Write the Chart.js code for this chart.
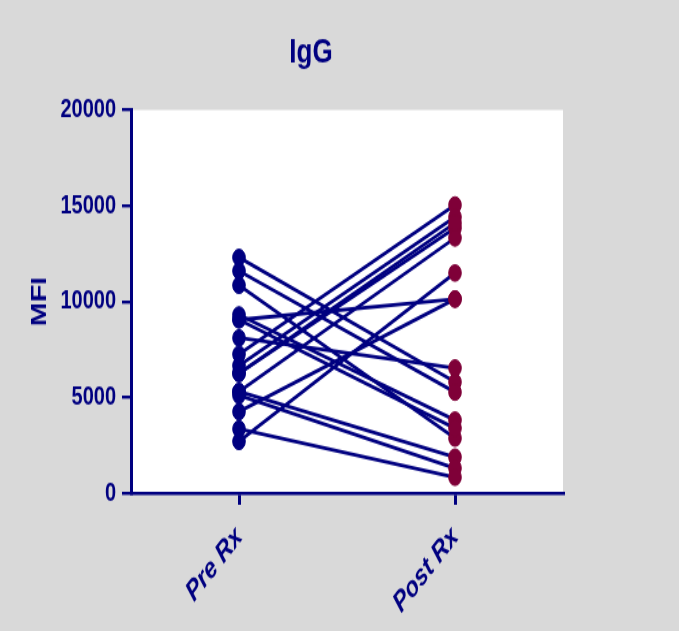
<!DOCTYPE html>
<html>
<head>
  <title>IgG</title>
  <style>
    body { margin: 0; background: #d9d9d9; overflow: hidden; }
    /* the original figure is stretched vertically: draw short, display tall */
    #igg { display: block; width: 679px; height: 631px; }
  </style>
</head>
<body>
  <canvas id="igg" width="679" height="485" style="width:679px;height:631px"></canvas>

  <script src="https://cdn.jsdelivr.net/npm/chart.js"></script>
  <script>
    // categories on the x axis
    const groups = ['Pre Rx', 'Post Rx'];
    // paired MFI values, one entry per subject
    const preRx  = [12300, 11600, 10850, 9300, 9050, 9050, 8100, 7250, 6650, 6250, 5300, 5300, 5100, 4250, 3350, 2700, 6250];
    const postRx = [5800, 5270, 2870, 3810, 3390, 10130, 6530, 15040, 14410, 13840, 13320, 1880, 1305, 10130, 830, 11490, 14100];
    const yTicks = [0, 5000, 10000, 15000, 20000];

    const navy = '#000080';
    const maroon = '#7f0038';
    const fontFam = "'Liberation Sans', Arial, sans-serif";

    // lines first, dots drawn on top afterwards
    const datasets = preRx.map((v, i) => ({
      data: [v, postRx[i]],
      borderColor: navy,
      borderWidth: 2.8,
      pointRadius: 0,
      order: 10
    }));
    datasets.push({
      data: preRx.map(v => ({ x: groups[0], y: v })),
      showLine: false,
      pointRadius: 6.3,
      pointBackgroundColor: navy,
      pointBorderColor: navy,
      order: 1
    });
    datasets.push({
      data: postRx.map(v => ({ x: groups[1], y: v })),
      showLine: false,
      pointRadius: 6.3,
      pointBackgroundColor: maroon,
      pointBorderColor: maroon,
      order: 0
    });

    const background = {
      id: 'background',
      beforeDraw(chart) {
        const { ctx, chartArea } = chart;
        ctx.save();
        ctx.fillStyle = '#d9d9d9';
        ctx.fillRect(0, 0, chart.width, chart.height);
        ctx.fillStyle = '#ffffff';
        ctx.fillRect(chartArea.left, chartArea.top, chartArea.right - chartArea.left, chartArea.bottom - chartArea.top);
        ctx.restore();
      },
      afterDraw(chart) {
        // chart title sits left of centre in the original
        const ctx = chart.ctx;
        ctx.save();
        ctx.fillStyle = navy;
        ctx.font = "bold 26px " + fontFam;
        ctx.textAlign = 'center';
        ctx.textBaseline = 'alphabetic';
        ctx.fillText('IgG', 311, 47.5);
        ctx.restore();
      }
    };

    new Chart(document.getElementById('igg'), {
      type: 'line',
      data: { labels: groups, datasets: datasets },
      options: {
        responsive: false,
        animation: false,
        devicePixelRatio: 1,
        layout: { padding: { top: 84.5, right: 116, left: 0, bottom: 0 } },
        plugins: { legend: { display: false }, tooltip: { enabled: false } },
        scales: {
          x: {
            type: 'category',
            offset: true,
            afterFit(scale) { scale.height = 106; },
            grid: { offset: false, drawOnChartArea: false, color: navy, lineWidth: 3, tickLength: 9 },
            border: { color: navy, width: 2.4 },
            ticks: {
              color: navy,
              minRotation: 45,
              maxRotation: 45,
              padding: 12,
              font: { family: fontFam, size: 22, weight: 'bold', style: 'italic' }
            }
          },
          y: {
            min: 0,
            max: 20000,
            afterFit(scale) { scale.width = 131; },
            afterBuildTicks(scale) { scale.ticks = yTicks.map(v => ({ value: v })); },
            grid: { drawOnChartArea: false, color: navy, lineWidth: 2.4, tickLength: 9 },
            border: { color: navy, width: 3 },
            ticks: {
              color: navy,
              padding: 6,
              callback: v => String(v),
              font: { family: fontFam, size: 20, weight: 'bold' }
            },
            title: {
              display: true,
              text: 'MFI',
              color: navy,
              padding: { top: 27, bottom: 0 },
              font: { family: fontFam, size: 22, weight: 'bold' }
            }
          }
        }
      },
      plugins: [background]
    });
  </script>
</body>
</html>
